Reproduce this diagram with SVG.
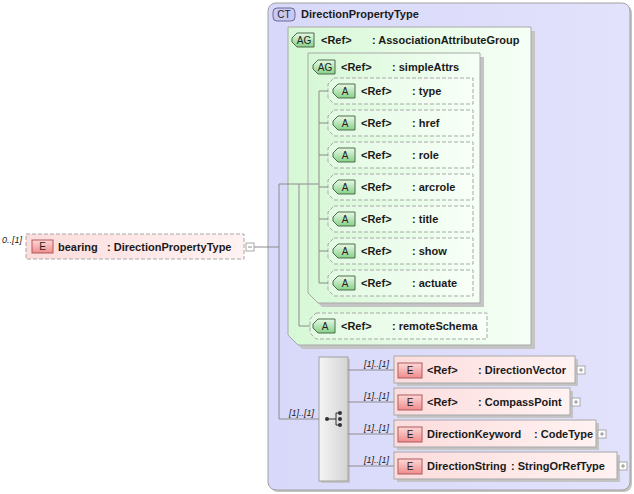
<svg xmlns="http://www.w3.org/2000/svg" width="634" height="494" viewBox="0 0 634 494">
<defs>
<style>
.t{font-family:"Liberation Sans",Arial,sans-serif;font-size:11px;font-weight:bold;fill:#1a1a1a}
.b{font-family:"Liberation Sans",Arial,sans-serif;font-size:10px;fill:#222;text-anchor:middle}
.c{font-family:"Liberation Sans",Arial,sans-serif;font-size:9px;font-style:italic;fill:#222}
.ln{stroke:#8c8c8c;stroke-width:1;fill:none}
.attr{fill:url(#attrG);stroke:#a8a8a8;stroke-dasharray:4 2}
.elem{fill:url(#elemG);stroke:#a8a8a8}
.shadow{fill:#c4c4c4}
.eb{fill:url(#ebG);stroke:#b05a5a}
.ab{fill:url(#abG);stroke:#4d6d4d}
.pm{fill:#fff;stroke:#a8a8a8}
.pml{stroke:#909090;stroke-width:1}
</style>
<linearGradient id="ctG" x1="0" y1="0" x2="1" y2="0"><stop offset="0" stop-color="#d8d8fa"/><stop offset="1" stop-color="#e2e2fc"/></linearGradient>
<linearGradient id="agG" x1="0" y1="0" x2="1" y2="0"><stop offset="0" stop-color="#d6f8d6"/><stop offset="1" stop-color="#f6fff6"/></linearGradient>
<linearGradient id="attrG" x1="0" y1="0" x2="1" y2="0"><stop offset="0" stop-color="#e2fae2"/><stop offset="1" stop-color="#f8fff8"/></linearGradient>
<linearGradient id="elemG" x1="0" y1="0" x2="1" y2="0"><stop offset="0" stop-color="#fcdcdc"/><stop offset="1" stop-color="#fff2f2"/></linearGradient>
<linearGradient id="ebG" x1="0" y1="0" x2="0" y2="1"><stop offset="0" stop-color="#ffd8d8"/><stop offset="1" stop-color="#ee8c8c"/></linearGradient>
<linearGradient id="abG" x1="0" y1="0" x2="0" y2="1"><stop offset="0" stop-color="#e8fae8"/><stop offset="1" stop-color="#88d088"/></linearGradient>
<linearGradient id="chG" x1="0" y1="0" x2="1" y2="0"><stop offset="0" stop-color="#f4f4f4"/><stop offset="1" stop-color="#d4d4d4"/></linearGradient>
</defs>

<g id="ct-DirectionPropertyType">
<rect x="270" y="5" width="362" height="487" rx="8" class="shadow"/>
<rect x="268" y="3" width="362" height="487" rx="8" fill="url(#ctG)" stroke="#a0a0a0"/>
<rect x="273" y="8" width="22" height="13" rx="4" fill="#c8c8f0" stroke="#6a6a9a"/>
<text x="284" y="18" class="b">CT</text>
<text x="301" y="18" class="t">DirectionPropertyType</text>
</g>

<g id="ag-AssociationAttributeGroup">
<polygon points="292,31 535,31 535,349 302,349 292,339" class="shadow"/>
<polygon points="288,27 531,27 531,345 298,345 288,335" fill="url(#agG)" stroke="#a8a8a8"/>
<path d="M297,33 H314 V47 H297 L292,42 V38 Z" fill="url(#abG)" stroke="#4d6d4d"/>
<text x="304" y="44" class="b">AG</text>
<text x="321" y="44" class="t">&lt;Ref&gt;</text>
<text x="372" y="44" class="t">: AssociationAttributeGroup</text>
</g>

<g id="ag-simpleAttrs">
<polygon points="312,57 484,57 484,307 322,307 312,297" class="shadow"/>
<polygon points="308,53 480,53 480,303 318,303 308,293" fill="url(#agG)" stroke="#a8a8a8"/>
<path d="M318,60 H335 V74 H318 L313,69 V65 Z" fill="url(#abG)" stroke="#4d6d4d"/>
<text x="325" y="71" class="b">AG</text>
<text x="341" y="71" class="t">&lt;Ref&gt;</text>
<text x="392" y="71" class="t">: simpleAttrs</text>
</g>

<g id="attr-type">
<polygon points="334,78 473,78 473,104 334,104 328,98 328,84" class="attr"/>
<path d="M338,84 H355 V98 H338 L333,93 V89 Z" class="ab"/>
<text x="345" y="95" class="b">A</text>
<text x="361" y="95" class="t">&lt;Ref&gt;</text>
<text x="412" y="95" class="t">: type</text>
</g>
<g id="attr-href">
<polygon points="334,110 473,110 473,136 334,136 328,130 328,116" class="attr"/>
<path d="M338,116 H355 V130 H338 L333,125 V121 Z" class="ab"/>
<text x="345" y="127" class="b">A</text>
<text x="361" y="127" class="t">&lt;Ref&gt;</text>
<text x="412" y="127" class="t">: href</text>
</g>
<g id="attr-role">
<polygon points="334,142 473,142 473,168 334,168 328,162 328,148" class="attr"/>
<path d="M338,148 H355 V162 H338 L333,157 V153 Z" class="ab"/>
<text x="345" y="159" class="b">A</text>
<text x="361" y="159" class="t">&lt;Ref&gt;</text>
<text x="412" y="159" class="t">: role</text>
</g>
<g id="attr-arcrole">
<polygon points="334,174 473,174 473,200 334,200 328,194 328,180" class="attr"/>
<path d="M338,180 H355 V194 H338 L333,189 V185 Z" class="ab"/>
<text x="345" y="191" class="b">A</text>
<text x="361" y="191" class="t">&lt;Ref&gt;</text>
<text x="412" y="191" class="t">: arcrole</text>
</g>
<g id="attr-title">
<polygon points="334,206 473,206 473,232 334,232 328,226 328,212" class="attr"/>
<path d="M338,212 H355 V226 H338 L333,221 V217 Z" class="ab"/>
<text x="345" y="223" class="b">A</text>
<text x="361" y="223" class="t">&lt;Ref&gt;</text>
<text x="412" y="223" class="t">: title</text>
</g>
<g id="attr-show">
<polygon points="334,238 473,238 473,264 334,264 328,258 328,244" class="attr"/>
<path d="M338,244 H355 V258 H338 L333,253 V249 Z" class="ab"/>
<text x="345" y="255" class="b">A</text>
<text x="361" y="255" class="t">&lt;Ref&gt;</text>
<text x="412" y="255" class="t">: show</text>
</g>
<g id="attr-actuate">
<polygon points="334,270 473,270 473,296 334,296 328,290 328,276" class="attr"/>
<path d="M338,276 H355 V290 H338 L333,285 V281 Z" class="ab"/>
<text x="345" y="287" class="b">A</text>
<text x="361" y="287" class="t">&lt;Ref&gt;</text>
<text x="412" y="287" class="t">: actuate</text>
</g>
<g id="attr-remoteSchema">
<polygon points="316,313 487,313 487,339 316,339 310,333 310,319" class="attr"/>
<path d="M318,319 H335 V333 H318 L313,328 V324 Z" class="ab"/>
<text x="325" y="330" class="b">A</text>
<text x="341" y="330" class="t">&lt;Ref&gt;</text>
<text x="392" y="330" class="t">: remoteSchema</text>
</g>

<g id="el-bearing">
<rect x="26" y="234" width="218" height="25" fill="url(#elemG)" stroke="#a8a8a8" stroke-dasharray="4 2"/>
<rect x="32" y="240" width="21" height="13" class="eb"/>
<text x="42.5" y="250" class="b">E</text>
<text x="58" y="251" class="t">bearing</text>
<text x="107" y="251" class="t">: DirectionPropertyType</text>
<rect x="246" y="243" width="8" height="8" class="pm"/>
<line x1="248" y1="247" x2="252" y2="247" class="pml"/>
<text x="2" y="243" class="c">0..[1]</text>
</g>

<g id="choice">
<rect x="321" y="359" width="29" height="124" class="shadow"/>
<rect x="319" y="357" width="29" height="124" fill="url(#chG)" stroke="#a0a0a0"/>
<circle cx="327" cy="419" r="2" fill="#333"/>
<path d="M327,419 H336 M336,413 V425 M336,413 H340 M336,425 H340" stroke="#333" fill="none"/>
<circle cx="340" cy="413" r="2" fill="#333"/>
<circle cx="340" cy="419" r="2" fill="#333"/>
<circle cx="340" cy="425" r="2" fill="#333"/>
</g>

<g id="el-DirectionVector">
<rect x="397" y="359" width="181" height="27" class="shadow"/>
<rect x="394" y="356" width="181" height="27" class="elem"/>
<rect x="398" y="363" width="24" height="15" class="eb"/>
<text x="410" y="374" class="b">E</text>
<text x="427" y="374" class="t">&lt;Ref&gt;</text>
<text x="478" y="374" class="t">: DirectionVector</text>
<rect x="577" y="366" width="8" height="8" class="pm"/>
<path d="M579,370 H583 M581,368 V372" class="pml"/>
</g>
<g id="el-CompassPoint">
<rect x="397" y="391" width="176" height="27" class="shadow"/>
<rect x="394" y="388" width="176" height="27" class="elem"/>
<rect x="398" y="395" width="24" height="15" class="eb"/>
<text x="410" y="406" class="b">E</text>
<text x="427" y="406" class="t">&lt;Ref&gt;</text>
<text x="478" y="406" class="t">: CompassPoint</text>
<rect x="572" y="398" width="8" height="8" class="pm"/>
<path d="M574,402 H578 M576,400 V404" class="pml"/>
</g>
<g id="el-DirectionKeyword">
<rect x="397" y="423" width="202" height="27" class="shadow"/>
<rect x="394" y="420" width="202" height="27" class="elem"/>
<rect x="398" y="427" width="24" height="15" class="eb"/>
<text x="410" y="438" class="b">E</text>
<text x="427" y="438" class="t">DirectionKeyword</text>
<text x="534" y="438" class="t">: CodeType</text>
<rect x="598" y="430" width="8" height="8" class="pm"/>
<path d="M600,434 H604 M602,432 V436" class="pml"/>
</g>
<g id="el-DirectionString">
<rect x="397" y="455" width="223" height="27" class="shadow"/>
<rect x="394" y="452" width="223" height="27" class="elem"/>
<rect x="398" y="459" width="24" height="15" class="eb"/>
<text x="410" y="470" class="b">E</text>
<text x="427" y="470" class="t">DirectionString</text>
<text x="511" y="470" class="t">: StringOrRefType</text>
<rect x="619" y="462" width="8" height="8" class="pm"/>
<path d="M621,466 H625 M623,464 V468" class="pml"/>
</g>

<g id="connectors">
<path class="ln" d="M254,247 H279 M279,184 V419 M279,184 H319 M299,184 V326 H310 M319,91 V283"/>
<path class="ln" d="M319,91 H328 M319,123 H328 M319,155 H328 M319,187 H328 M319,219 H328 M319,251 H328 M319,283 H328"/>
<path class="ln" d="M279,419 H319 M348,370 H394 M348,402 H394 M348,434 H394 M348,466 H394"/>
<text x="289" y="416" class="c">[1]..[1]</text>
<text x="364" y="367" class="c">[1]..[1]</text>
<text x="364" y="399" class="c">[1]..[1]</text>
<text x="364" y="431" class="c">[1]..[1]</text>
<text x="364" y="463" class="c">[1]..[1]</text>
</g>
</svg>
